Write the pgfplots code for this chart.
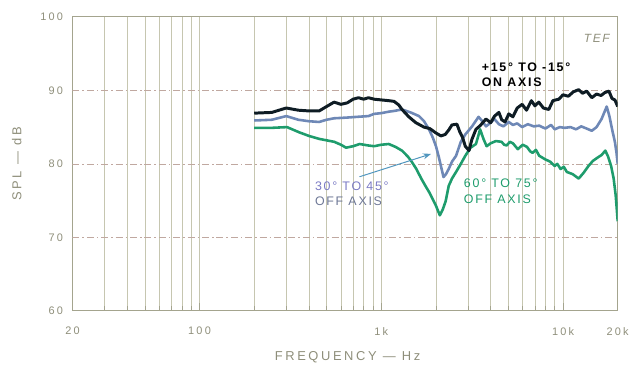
\documentclass[border=0pt]{standalone}
\usepackage{pgfplots}
\pgfplotsset{compat=1.18}
\usetikzlibrary{arrows.meta}
\usepackage{fontspec}
\setmainfont{Liberation Sans}
\newfontfamily\lbl[LetterSpace=20]{Liberation Sans}
\newfontfamily\ann[LetterSpace=14]{Liberation Sans}
\definecolor{gridc}{HTML}{C6C6B0}
\definecolor{axc}{HTML}{A4A48E}
\definecolor{txtc}{HTML}{8E8E7A}
\definecolor{blk}{HTML}{0E1C24}
\definecolor{blu}{HTML}{6E88B6}
\definecolor{grn}{HTML}{1E9C6C}
\definecolor{dashc}{HTML}{C0A8A0}
\definecolor{arr}{HTML}{5096BE}
\begin{document}
\begin{tikzpicture}
\begin{axis}[
  scale only axis, width=549pt, height=296pt,
  xmode=log, xmin=20, xmax=20000, ymin=60, ymax=100,
  xtick={20,100,1000,10000,20000}, xticklabels={20,100,1k,10k,20k},
  minor xtick={30,40,50,60,70,80,90,200,300,400,500,600,700,800,900,2000,3000,4000,5000,6000,7000,8000,9000},
  ytick={60,70,80,90,100},
  xmajorgrids, xminorgrids,
  major grid style={gridc, line width=0.6pt},
  minor grid style={gridc, line width=0.6pt},
  axis line style={axc, line width=0.9pt},
  tick style={axc, line width=0.6pt},
  major tick length=8pt, minor tick length=5pt,
  tick align=inside, xtick pos=left, ytick pos=left,
  ytick style={draw=none},
  /pgf/number format/assume math mode=true,
  ticklabel style={font=\lbl\fontsize{11}{13}\selectfont, text=txtc},
  yticklabel style={xshift=-6pt},
  xticklabel style={yshift=-13pt},
]
\draw[dashc, line width=0.6pt, dash pattern=on 7pt off 3pt on 1.5pt off 3pt] (axis cs:20,70) -- (axis cs:20000,70);
\draw[dashc, line width=0.6pt, dash pattern=on 7pt off 3pt on 1.5pt off 3pt] (axis cs:20,80) -- (axis cs:20000,80);
\draw[dashc, line width=0.6pt, dash pattern=on 7pt off 3pt on 1.5pt off 3pt] (axis cs:20,90) -- (axis cs:20000,90);
% 60 to 75 off axis
\addplot[grn, line width=2.6pt, line join=round] coordinates {
(200,84.9)(250,84.9)(303,85.0)(353,84.3)(400,83.8)(455,83.4)(551,83.0)(600,82.6)(640,82.2)(700,82.4)(760,82.7)(850,82.5)(913,82.4)(1000,82.6)(1100,82.7)(1200,82.3)(1300,81.8)(1400,81.0)(1470,80.3)(1560,79.3)(1660,78.0)(1750,77.0)(1830,76.2)(1920,75.2)(2000,74.3)(2100,73.0)(2180,73.8)(2260,74.9)(2350,77.0)(2450,78.0)(2580,78.9)(2740,80.0)(2900,81.1)(3100,82.2)(3320,82.7)(3500,84.7)(3650,83.4)(3800,82.4)(4000,82.8)(4270,83.1)(4590,83.0)(4750,82.6)(4900,82.5)(5100,83.0)(5300,82.8)(5640,82.0)(6000,82.6)(6340,82.3)(6600,81.7)(6800,81.5)(7100,81.9)(7400,81.1)(8000,80.6)(8500,80.3)(9000,79.7)(9300,80.0)(9700,79.3)(10100,79.6)(10500,78.9)(11300,78.6)(12200,78.0)(13000,78.8)(13800,79.7)(14600,80.4)(15600,80.9)(16300,81.2)(17100,81.8)(17700,81.0)(18400,79.7)(19000,78.0)(19500,75.7)(20000,72.2)
};
% 30 to 45 off axis
\addplot[blu, line width=2.6pt, line join=round] coordinates {
(200,85.9)(250,86.0)(300,86.5)(350,86.0)(400,85.8)(455,85.7)(500,86.0)(550,86.2)(650,86.3)(740,86.4)(850,86.5)(913,86.8)(1000,86.9)(1100,87.1)(1177,87.2)(1300,87.4)(1450,87.0)(1613,86.5)(1720,85.8)(1830,84.7)(1920,83.6)(2000,82.4)(2070,81.0)(2130,79.7)(2200,78.2)(2270,78.6)(2350,79.3)(2450,80.3)(2580,81.1)(2740,83.0)(2900,84.0)(3160,85.1)(3430,86.4)(3600,85.8)(3770,85.1)(4000,85.6)(4190,86.1)(4440,85.4)(4700,85.1)(5030,85.7)(5300,85.3)(5600,85.5)(5960,85.0)(6400,85.4)(6900,85.1)(7400,85.2)(8000,84.8)(8600,85.3)(9000,84.7)(9600,85.0)(10200,84.9)(11000,85.0)(11800,84.7)(12600,85.1)(13500,84.8)(14400,84.5)(15300,85.0)(16300,86.1)(17400,87.8)(18000,86.5)(18700,84.5)(19300,83.0)(19700,81.5)(20000,80.0)
};
% on axis
\addplot[blk, line width=3pt, line join=round] coordinates {
(200,86.9)(250,87.0)(300,87.6)(350,87.3)(400,87.2)(455,87.2)(500,87.8)(550,88.4)(600,88.1)(650,88.3)(700,88.8)(750,89.0)(800,88.8)(850,89.0)(913,88.8)(1000,88.7)(1100,88.6)(1177,88.5)(1250,88.0)(1300,87.4)(1418,86.4)(1550,85.6)(1718,85.0)(1850,84.8)(2000,84.2)(2130,83.8)(2250,84.0)(2350,84.6)(2450,85.3)(2608,85.4)(2700,84.4)(2800,83.6)(2900,82.4)(3040,81.8)(3150,83.3)(3320,84.7)(3500,85.2)(3770,86.1)(4000,85.6)(4200,86.5)(4440,87.0)(4600,86.0)(4800,85.7)(5030,86.8)(5300,86.4)(5600,87.6)(5960,88.1)(6300,87.3)(6700,88.6)(7000,87.9)(7360,88.4)(7800,87.6)(8350,87.4)(8800,88.6)(9490,88.8)(10000,89.4)(10700,89.2)(11400,89.8)(12200,90.1)(12800,89.6)(13500,89.9)(14400,89.0)(15300,89.5)(16200,89.3)(17000,89.7)(17900,89.9)(18600,88.9)(19300,88.7)(20000,87.8)
};
\end{axis}
\path (-73pt,-58pt) rectangle (559pt,313pt);
\node[anchor=north west, align=left, inner sep=0pt, text=black, font=\ann\bfseries\fontsize{12.5}{15.5}\selectfont] at (412pt,250pt) {+15° TO -15°\\ON AXIS};
\node[anchor=north west, align=left, inner sep=0pt, font=\ann\fontsize{12.5}{15.5}\selectfont] at (244pt,130pt) {\textcolor[HTML]{7A7AC4}{30° TO 45°}\\\textcolor[HTML]{6E7896}{OFF AXIS}};
\node[anchor=north west, align=left, inner sep=0pt, text=grn, font=\ann\fontsize{12.5}{15.5}\selectfont] at (394pt,133pt) {60° TO 75°\\OFF AXIS};
\draw[arr, line width=1pt, -{Stealth[length=8pt,width=6pt]}] (289pt,135pt) -- (361pt,158pt);
\node[anchor=center, inner sep=0pt, text=txtc, font=\ann\itshape\fontsize{12}{14}\selectfont] at (528pt,274pt) {TEF};
\node[rotate=90, inner sep=0pt, text=txtc, font=\lbl\fontsize{13}{15}\selectfont] at (-56pt,148pt) {SPL — dB};
\node[inner sep=0pt, text=txtc, font=\lbl\fontsize{13}{15}\selectfont] at (277pt,-47pt) {FREQUENCY — Hz};
\end{tikzpicture}
\end{document}
